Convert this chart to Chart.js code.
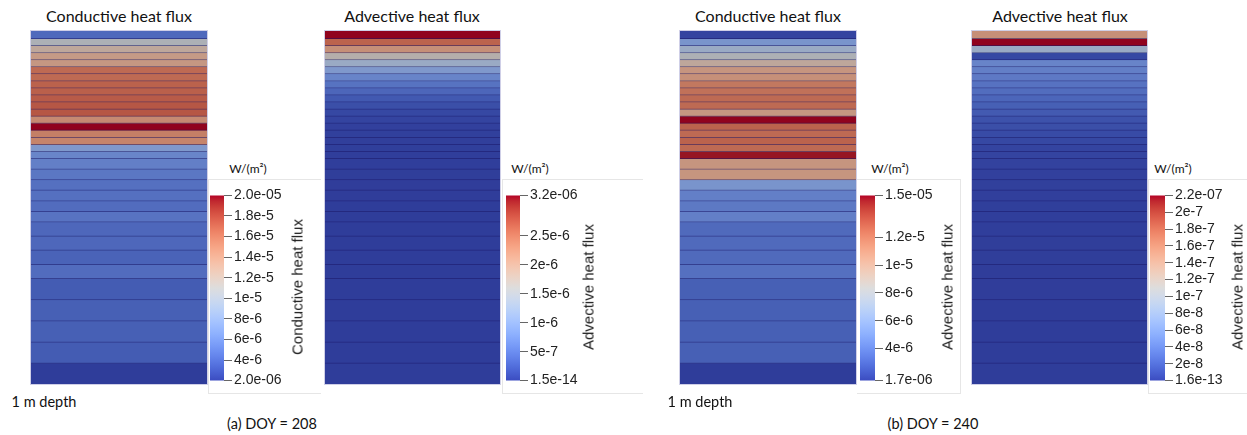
<!DOCTYPE html>
<html>
<head>
<meta charset="utf-8">
<script src="https://cdn.jsdelivr.net/npm/chart.js@4"></script>
<style>
  body { margin: 0; background: #fff; width: 1247px; height: 435px; overflow: hidden; position: relative; }
  canvas { position: absolute; }
  .col { outline: 1px solid rgba(175, 175, 215, 0.6); }
  .txt { position: absolute; transform: translate(-50%, -50%); white-space: nowrap; color: #111; font-family: Lato, "Open Sans", sans-serif; }
  .title { font-size: 16px; }
  .cap { font-size: 14.5px; }
  .unit { font-size: 12px; }
  .vlab { position: absolute; transform: translate(-50%, -50%) rotate(-90deg); white-space: nowrap; color: #222; font-family: "Liberation Sans", Arial, sans-serif; font-size: 15px; }
  .frame { position: absolute; border: 1px solid #e6e6e6; }
</style>
</head>
<body>

<div class="txt title" style="left:119px; top:15px">Conductive heat flux</div>
<div class="txt title" style="left:412px; top:15px">Advective heat flux</div>
<div class="txt title" style="left:768px; top:15px">Conductive heat flux</div>
<div class="txt title" style="left:1060px; top:15px">Advective heat flux</div>

<div class="frame" style="left:208px; top:179px; width:112px; height:213px; border-right:none"></div>
<div class="frame" style="left:502px; top:179px; width:140px; height:213px; border-right:none"></div>
<div class="frame" style="left:857px; top:179px; width:103px; height:213px; border-left:none"></div>
<div class="frame" style="left:1148px; top:179px; width:110px; height:213px; border-right:none"></div>

<canvas id="colA" class="col" width="176" height="353" style="left:31px; top:31px"></canvas>
<canvas id="colB" class="col" width="175" height="353" style="left:325px; top:31px"></canvas>
<canvas id="colC" class="col" width="176" height="353" style="left:680px; top:31px"></canvas>
<canvas id="colD" class="col" width="175" height="353" style="left:972px; top:31px"></canvas>

<canvas id="cbA" width="94" height="206" style="left:210px; top:185px"></canvas>
<canvas id="cbB" width="94" height="206" style="left:506px; top:185px"></canvas>
<canvas id="cbC" width="95" height="206" style="left:860px; top:185px"></canvas>
<canvas id="cbD" width="95" height="206" style="left:1150px; top:185px"></canvas>

<div class="txt unit" style="left:248px; top:168px">W/(m²)</div>
<div class="txt unit" style="left:530px; top:168px">W/(m²)</div>
<div class="txt unit" style="left:890px; top:168px">W/(m²)</div>
<div class="txt unit" style="left:1173px; top:168px">W/(m²)</div>

<div class="vlab" style="left:297px; top:287px">Conductive heat flux</div>
<div class="vlab" style="left:588px; top:287px">Advective heat flux</div>
<div class="vlab" style="left:947px; top:287px">Advective heat flux</div>
<div class="vlab" style="left:1237px; top:287px">Advective heat flux</div>

<div class="txt cap" style="left:44px; top:401px">1 m depth</div>
<div class="txt cap" style="left:700px; top:401px">1 m depth</div>
<div class="txt cap" style="left:272px; top:423px">(a) DOY = 208</div>
<div class="txt cap" style="left:933px; top:423px">(b) DOY = 240</div>

<script>
// layer thicknesses from the surface down (m), 1 m column
const layerThickness = [
  0.02, 0.02, 0.02, 0.02, 0.02, 0.02, 0.02, 0.02, 0.02,
  0.02, 0.02, 0.02, 0.02, 0.02, 0.02, 0.02, 0.02, 0.02,
  0.03, 0.03, 0.03, 0.03, 0.03, 0.03,
  0.04, 0.04, 0.04, 0.04,
  0.06, 0.06, 0.06, 0.06, 0.06
];

// (a) DOY 208, W/m2 per layer
const conductive208 = [
  4.3e-6, 1.06e-5, 1.23e-5, 1.35e-5, 1.37e-5, 1.64e-5, 1.64e-5, 1.68e-5, 1.69e-5,
  1.71e-5, 1.73e-5, 1.73e-5, 1.46e-5, 2.0e-5, 1.53e-5, 1.50e-5, 7.4e-6, 6.0e-6,
  5.6e-6, 5.1e-6, 4.7e-6, 4.7e-6, 4.5e-6, 4.9e-6,
  4.2e-6, 4.2e-6, 4.0e-6, 4.5e-6,
  3.6e-6, 3.8e-6, 3.8e-6, 3.6e-6, 2.0e-6
];
const advective208 = [
  3.2e-6, 2.62e-6, 2.18e-6, 1.66e-6, 1.28e-6, 9.6e-7, 7.0e-7, 5.1e-7, 3.8e-7,
  2.6e-7, 1.6e-7, 9.6e-8, 6.4e-8, 3.2e-8, 2.6e-8, 1.9e-8, 1.6e-8, 1.3e-8,
  1.0e-8, 8e-9, 6e-9, 5e-9, 4e-9, 3e-9,
  2e-9, 1.5e-9, 1e-9, 8e-10,
  5e-10, 3e-10, 2e-10, 1e-10, 1.5e-14
];

// (b) DOY 240
const conductive240 = [
  1.97e-6, 5.42e-6, 7.02e-6, 8.08e-6, 9.28e-6, 1.048e-5, 1.074e-5, 1.181e-5, 1.207e-5,
  1.234e-5, 1.234e-5, 1.035e-5, 1.5e-5, 1.261e-5, 1.234e-5, 1.261e-5, 1.234e-5, 1.473e-5,
  1.048e-5, 1.048e-5, 5.42e-6, 4.36e-6, 4.09e-6, 4.36e-6,
  3.43e-6, 3.43e-6, 3.43e-6, 3.7e-6,
  3.03e-6, 3.03e-6, 3.03e-6, 3.03e-6, 1.7e-6
];
const advective240 = [
  1.5e-7, 2.2e-7, 8.8e-8, 6.6e-9, 4.8e-8, 4.4e-8, 4.0e-8, 3.5e-8, 3.1e-8,
  2.6e-8, 2.2e-8, 1.8e-8, 1.3e-8, 1.1e-8, 8.8e-9, 6.6e-9, 4.4e-9, 4.4e-9,
  3.3e-9, 2.2e-9, 1.8e-9, 1.5e-9, 1.2e-9, 1.0e-9,
  8e-10, 6e-10, 5e-10, 4e-10,
  3e-10, 2e-10, 1e-10, 5e-11, 1.6e-13
];

// colour bar ranges and ticks
const rangeA = [2.0e-6, 2.0e-5];
const ticksA = [2e-6, 4e-6, 6e-6, 8e-6, 1e-5, 1.2e-5, 1.4e-5, 1.6e-5, 1.8e-5, 2e-5];
const labelsA = ['2.0e-06', '4e-6', '6e-6', '8e-6', '1e-5', '1.2e-5', '1.4e-5', '1.6e-5', '1.8e-5', '2.0e-05'];

const rangeB = [1.5e-14, 3.2e-6];
const ticksB = [1.5e-14, 5e-7, 1e-6, 1.5e-6, 2e-6, 2.5e-6, 3.2e-6];
const labelsB = ['1.5e-14', '5e-7', '1e-6', '1.5e-6', '2e-6', '2.5e-6', '3.2e-06'];

const rangeC = [1.7e-6, 1.5e-5];
const ticksC = [1.7e-6, 4e-6, 6e-6, 8e-6, 1e-5, 1.2e-5, 1.5e-5];
const labelsC = ['1.7e-06', '4e-6', '6e-6', '8e-6', '1e-5', '1.2e-5', '1.5e-05'];

const rangeD = [1.6e-13, 2.2e-7];
const ticksD = [1.6e-13, 2e-8, 4e-8, 6e-8, 8e-8, 1e-7, 1.2e-7, 1.4e-7, 1.6e-7, 1.8e-7, 2e-7, 2.2e-7];
const labelsD = ['1.6e-13', '2e-8', '4e-8', '6e-8', '8e-8', '1e-7', '1.2e-7', '1.4e-7', '1.6e-7', '1.8e-7', '2e-7', '2.2e-07'];

// paraview cool to warm
const coolWarm = [
  [59, 76, 192], [68, 90, 204], [77, 104, 215], [87, 117, 225], [98, 130, 234], [108, 142, 241],
  [119, 154, 247], [130, 165, 251], [141, 176, 254], [152, 185, 255], [163, 194, 255], [174, 201, 253],
  [184, 208, 249], [194, 213, 244], [204, 217, 238], [213, 219, 230], [221, 221, 221], [229, 216, 209],
  [236, 211, 197], [241, 204, 185], [245, 196, 173], [247, 187, 160], [247, 177, 148], [247, 166, 135],
  [244, 154, 123], [241, 141, 111], [236, 127, 99], [229, 112, 88], [222, 96, 77], [213, 80, 66],
  [203, 62, 56], [192, 40, 47], [180, 4, 38]
];

function cmap(t) {
  t = Math.min(1, Math.max(0, t)) * (coolWarm.length - 1);
  const i = Math.min(Math.floor(t), coolWarm.length - 2);
  const f = t - i;
  return coolWarm[i].map((c, k) => c + (coolWarm[i + 1][k] - c) * f);
}

const rgb = (c, k = 1) => `rgb(${c.map(v => Math.round(v * k)).join(',')})`;

const base = {
  responsive: false,
  animation: false,
  devicePixelRatio: 1,
  layout: { padding: 0 },
  plugins: { legend: { display: false }, tooltip: { enabled: false } }
};

function column(id, values, range) {
  let top = 0;
  const datasets = layerThickness.map((h, i) => {
    const c = cmap((values[i] - range[0]) / (range[1] - range[0]));
    const fill = c.map(v => v * 0.8);
    const edge = fill.map((v, k) => v * 0.5 + [12, 10, 50][k]);
    const ds = {
      data: [[top, top + h]],
      backgroundColor: rgb(fill),
      borderColor: rgb(edge),
      borderWidth: { top: 0, left: 0, right: 0, bottom: i === layerThickness.length - 1 ? 0 : 1 },
      borderSkipped: false,
      inflateAmount: 1,
      grouped: false,
      barPercentage: 1,
      categoryPercentage: 1
    };
    top += h;
    return ds;
  });
  new Chart(document.getElementById(id), {
    type: 'bar',
    data: { labels: ['column'], datasets },
    options: {
      ...base,
      scales: {
        x: { display: false },
        y: { display: false, reverse: true, min: 0, max: 1 }
      }
    }
  });
}

function colorbar(id, range, ticks, labels, axisW) {
  new Chart(document.getElementById(id), {
    type: 'bar',
    data: {
      labels: ['bar'],
      datasets: [{
        data: [range],
        backgroundColor: ctx => {
          const a = ctx.chart.chartArea;
          if (!a) return '#888';
          const g = ctx.chart.ctx.createLinearGradient(0, a.bottom, 0, a.top);
          coolWarm.forEach((c, i) => g.addColorStop(i / (coolWarm.length - 1), rgb(c)));
          return g;
        },
        borderWidth: 0,
        barPercentage: 1,
        categoryPercentage: 1
      }]
    },
    options: {
      ...base,
      scales: {
        x: { display: false },
        y: {
          position: 'right',
          min: range[0],
          max: range[1],
          afterBuildTicks: s => { s.ticks = ticks.map(v => ({ value: v })); },
          afterFit: s => { s.width = axisW; },
          ticks: {
            autoSkip: false,
            padding: 2,
            color: '#222',
            font: { family: '"Liberation Sans", Arial, sans-serif', size: 14, lineHeight: 1.2 },
            callback: (v, i) => labels[i]
          },
          grid: { drawOnChartArea: false, drawTicks: true, tickLength: 8, color: '#666' },
          border: { display: false }
        }
      }
    }
  });
}

column('colA', conductive208, rangeA);
column('colB', advective208, rangeB);
column('colC', conductive240, rangeC);
column('colD', advective240, rangeD);

colorbar('cbA', rangeA, ticksA, labelsA, 80);
colorbar('cbB', rangeB, ticksB, labelsB, 80);
colorbar('cbC', rangeC, ticksC, labelsC, 80);
colorbar('cbD', rangeD, ticksD, labelsD, 80);
</script>
</body>
</html>
